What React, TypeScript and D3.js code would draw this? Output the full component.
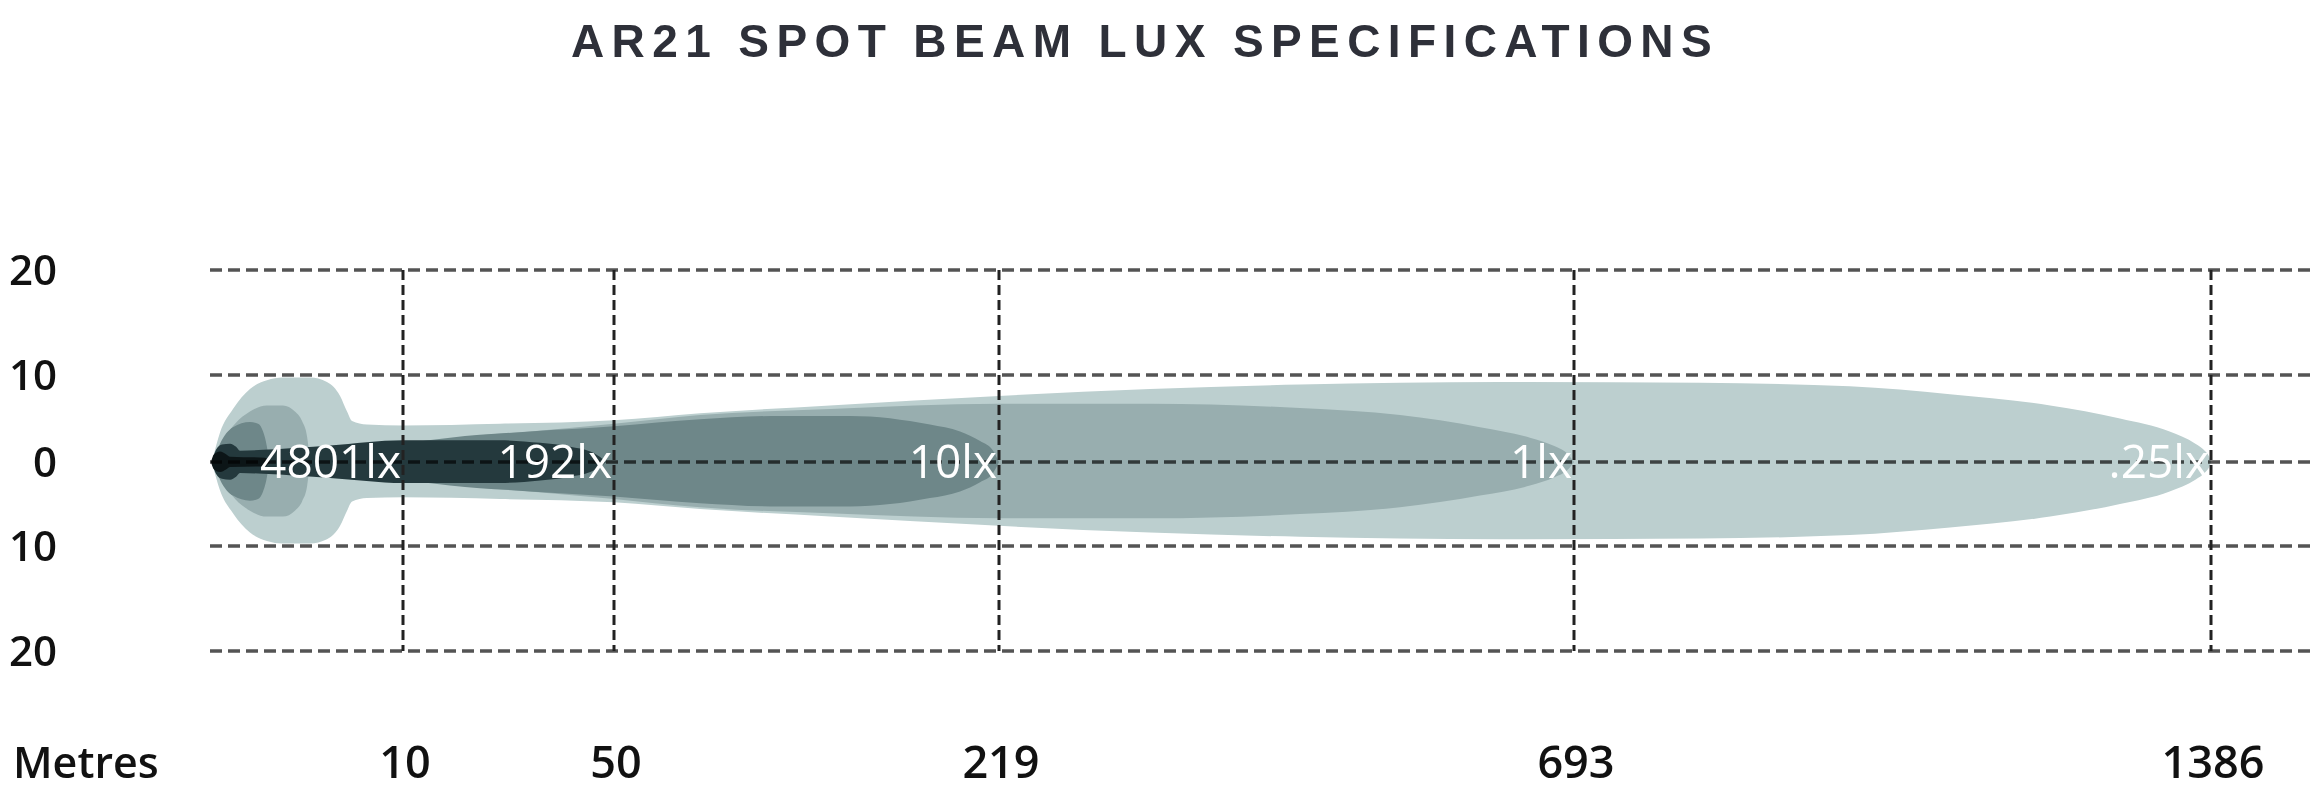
import React from "react";
import * as d3 from "d3";

// ---- Data ----
const title = "AR21 SPOT BEAM LUX SPECIFICATIONS";
const distanceStops = [0, 10, 50, 219, 693, 1386];
const distanceTicks = [10, 50, 219, 693, 1386];
const lateralTicks = [20, 10, 0, -10, -20];
const luxLabels = ["4801lx", "192lx", "10lx", "1lx", ".25lx"];
const luxDistances = [10, 50, 219, 693, 1386];

// beam profiles: [distance (m), half-width (m)]
const beamQuarterLux: [number, number][] = [
  [0.1, 0], [0.52, 3.4], [1.19, 6.1], [2.07, 8.4], [2.95, 9.4], [3.78, 9.7], [5.18, 9.7],
  [6.06, 9.2], [6.74, 7.6], [7.1, 5.8], [7.36, 4.7], [8.13, 4.3], [10, 4.2], [28.4, 4.4],
  [50, 4.8], [87.8, 5.6], [144.8, 6.5], [219, 7.6], [343.5, 8.4], [467.1, 8.9], [632, 9.2],
  [830, 9.1], [993, 8.7], [1102, 7.8], [1211, 6.5], [1287, 5.0], [1341, 3.5], [1369, 2.1],
  [1380, 1.2], [1384, 0.6], [1386, 0],
];
const bulbOneLux: [number, number][] = [
  [0.16, 0], [0.62, 2.3], [1.3, 4.4], [2.07, 5.8], [2.95, 6.5], [3.78, 6.5], [4.4, 5.8],
  [4.77, 4.7], [5.03, 2.9], [5.18, 0],
];
const beamOneLux: [number, number][] = [
  [10, 1.2], [18.9, 2.6], [34.1, 3.5], [50, 4.4], [87.8, 5.4], [144.8, 6.1], [219, 6.7],
  [343.5, 6.7], [467.1, 6.2], [549.6, 5.4], [615.5, 4.0], [656.7, 2.8], [677.3, 1.8],
  [688, 0.9], [693, 0],
];
const bulbTenLux: [number, number][] = [
  [0.16, 0], [0.52, 2.1], [1.19, 4.0], [2.07, 4.6], [2.49, 4.4], [2.75, 3.5], [2.95, 1.75], [3.06, 0],
];
const beamTenLux: [number, number][] = [
  [10, 2.1], [18.9, 2.8], [34.1, 3.5], [50, 4.1], [87.8, 4.9], [122.9, 5.3], [153.6, 5.3],
  [188.7, 4.3], [201.9, 3.5], [210.7, 2.4], [216.4, 1.3], [219, 0],
];
const beam192Lux: [number, number][] = [
  [0.1, 0], [0.31, 1.4], [0.62, 2.0], [1.04, 2.1], [1.35, 1.75], [1.55, 1.3], [2.75, 1.4],
  [6.22, 1.9], [10, 2.5], [28.4, 2.5], [36.0, 2.2], [41.7, 1.75], [45.5, 1.2], [47.3, 0.6], [48.5, 0],
];
const core4801Lux: [number, number][] = [
  [0.05, 0], [0.21, 0.9], [0.52, 1.2], [0.83, 0.9], [1.04, 0.6], [2.85, 0.5], [3.1, 0],
];

const layerColors = {
  quarter: "#bccfcf",
  one: "#98aeaf",
  ten: "#6e8789",
  d192: "#24393d",
  core: "#0c1517",
};

export default function App() {
  const W = 2314;
  const H = 790;
  const x = d3.scaleLinear().domain(distanceStops).range([210, 403, 614, 999, 1574, 2211]);
  const y = d3.scaleLinear().domain(lateralTicks).range([270, 375, 462, 546, 651]);

  const area = d3
    .area<[number, number]>()
    .x((d) => x(d[0]))
    .y0((d) => y(-d[1]))
    .y1((d) => y(d[1]))
    .curve(d3.curveMonotoneX);

  const layers: { data: [number, number][]; color: string }[] = [
    { data: beamQuarterLux, color: layerColors.quarter },
    { data: bulbOneLux, color: layerColors.one },
    { data: beamOneLux, color: layerColors.one },
    { data: bulbTenLux, color: layerColors.ten },
    { data: beamTenLux, color: layerColors.ten },
    { data: beam192Lux, color: layerColors.d192 },
    { data: core4801Lux, color: layerColors.core },
  ];

  const axisFont = "'Open Sans', 'Noto Sans', sans-serif";

  return (
    <svg
      width={W}
      height={H}
      style={{ position: "absolute", left: 0, top: 0, display: "block", background: "#fff" }}
    >
      <text
        x={W / 2 - 12}
        y={57}
        textAnchor="middle"
        fontFamily="'Liberation Sans', Arial, sans-serif"
        fontWeight={700}
        fontSize={46}
        letterSpacing={7.4}
        fill="#2e3039"
      >
        {title}
      </text>

      {layers.map((l, i) => (
        <path key={i} d={area(l.data) || ""} fill={l.color} />
      ))}

      {lateralTicks.map((t) => (
        <line
          key={"h" + t}
          x1={x(0)}
          x2={W}
          y1={y(t)}
          y2={y(t)}
          stroke="#545454"
          strokeWidth={3.5}
          strokeDasharray="12 6"
          style={{ mixBlendMode: "multiply" }}
        />
      ))}
      {distanceTicks.map((t) => (
        <line
          key={"v" + t}
          x1={x(t)}
          x2={x(t)}
          y1={y(20)}
          y2={y(-20)}
          stroke="#222"
          strokeWidth={3}
          strokeDasharray="10 5"
        />
      ))}

      {luxLabels.map((lab, i) => (
        <text
          key={lab}
          x={x(luxDistances[i]) - 2}
          y={y(0) + 16}
          textAnchor="end"
          fontFamily={axisFont}
          fontWeight={400}
          fontSize={46}
          fill="#ffffff"
        >
          {lab}
        </text>
      ))}

      {lateralTicks.map((t) => (
        <text
          key={"yl" + t}
          x={57}
          y={y(t) + 15}
          textAnchor="end"
          fontFamily={axisFont}
          fontWeight={600}
          fontSize={42}
          fill="#111"
        >
          {Math.abs(t)}
        </text>
      ))}

      <text x={13} y={778} fontFamily={axisFont} fontWeight={600} fontSize={43} fill="#111">
        Metres
      </text>
      {distanceTicks.map((t) => (
        <text
          key={"xl" + t}
          x={x(t) + 2}
          y={778}
          textAnchor="middle"
          fontFamily={axisFont}
          fontWeight={600}
          fontSize={45}
          fill="#111"
        >
          {t}
        </text>
      ))}
    </svg>
  );
}
